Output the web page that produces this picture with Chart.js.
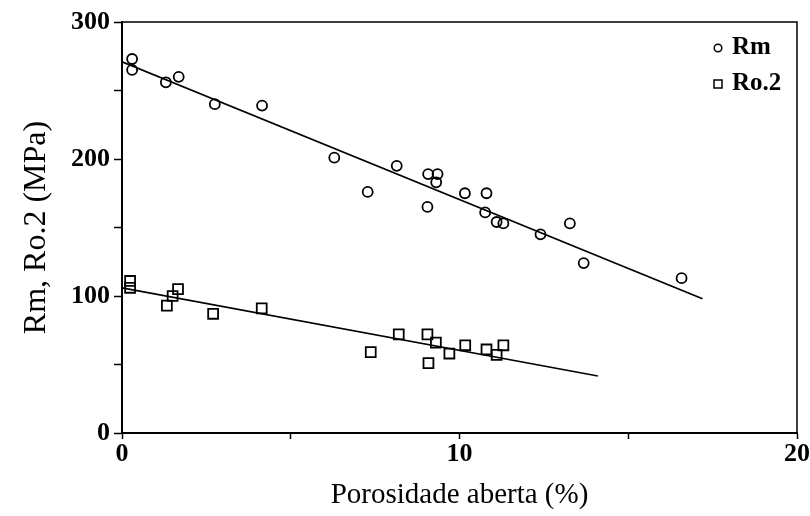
<!DOCTYPE html>
<html>
<head>
<meta charset="utf-8">
<script src="https://cdn.jsdelivr.net/npm/chart.js@4/dist/chart.umd.min.js"></script>
<style>
  html, body { margin: 0; padding: 0; background: #fff; }
  #wrap { width: 810px; height: 516px; }
</style>
</head>
<body>
<div id="wrap"><canvas id="c" width="810" height="516"></canvas></div>
<script>
// Tensile strength (Rm) and yield strength (Ro.2) versus open porosity
const rmX  = [0.3, 0.3, 1.3, 1.68, 2.75, 4.15, 6.29, 7.28, 8.14, 9.07, 9.35, 9.31, 9.05, 10.16, 10.8, 10.76, 11.1, 11.3, 12.4, 13.27, 13.68, 16.58];
const rmY  = [273, 265, 256, 260, 240, 239, 201, 176, 195, 189, 189, 183, 165, 175, 175, 161, 154, 153, 145, 153, 124, 113];
const ro2X = [0.24, 0.24, 1.33, 1.5, 1.66, 2.7, 4.14, 7.37, 8.2, 9.05, 9.3, 9.08, 9.7, 10.17, 10.8, 11.1, 11.3];
const ro2Y = [111, 106, 93, 100, 105, 87, 91, 59, 72, 72, 66, 51, 58, 64, 61, 57, 64];

// Linear fits drawn over each series
const rmFitX  = [0, 17.2];
const rmFitY  = [271, 98];
const ro2FitX = [0, 14.1];
const ro2FitY = [106, 41.6];

const xTickLabels = [0, 10, 20];
const yTickLabels = [0, 100, 200, 300];

const seriesNames = ['Rm', 'Ro.2'];
const xTitle = 'Porosidade aberta (%)';
const yTitle = 'Rm, Ro.2 (MPa)';

const pts = (xs, ys) => xs.map((x, i) => ({ x: x, y: ys[i] }));
const SERIF = "'Liberation Serif', 'Times New Roman', serif";

// Frame on top/right and the inside legend
const framePlugin = {
  id: 'frameAndLegend',
  afterDraw(chart) {
    const { ctx, chartArea: a } = chart;
    ctx.save();
    ctx.strokeStyle = '#000';
    ctx.lineWidth = 1.5;
    ctx.beginPath();
    ctx.moveTo(a.left, a.top);
    ctx.lineTo(a.right, a.top);
    ctx.lineTo(a.right, a.bottom);
    ctx.stroke();

    // legend entries
    const lx = a.right - 79, ty = a.top + 26, gap = 36;
    ctx.font = "bold 25px " + SERIF;
    ctx.textBaseline = 'middle';
    ctx.fillStyle = '#000';
    ctx.lineWidth = 1.5;
    // circle
    ctx.beginPath();
    ctx.arc(lx, ty, 3.8, 0, Math.PI * 2);
    ctx.stroke();
    ctx.fillText(seriesNames[0], lx + 14, ty);
    // square
    ctx.strokeRect(lx - 4, ty + gap - 4, 8, 8);
    ctx.fillText(seriesNames[1], lx + 14, ty + gap);
    ctx.restore();
  }
};

new Chart(document.getElementById('c'), {
  type: 'scatter',
  data: {
    datasets: [
      { label: seriesNames[0] + ' fit', data: pts(rmFitX, rmFitY), showLine: true,
        borderColor: '#000', borderWidth: 1.7, pointRadius: 0, fill: false },
      { label: seriesNames[1] + ' fit', data: pts(ro2FitX, ro2FitY), showLine: true,
        borderColor: '#000', borderWidth: 1.7, pointRadius: 0, fill: false },
      { label: seriesNames[0], data: pts(rmX, rmY), pointStyle: 'circle',
        pointRadius: 5, borderColor: '#000', backgroundColor: 'rgba(255,255,255,0)', borderWidth: 1.8 },
      { label: seriesNames[1], data: pts(ro2X, ro2Y), pointStyle: 'rect',
        pointRadius: 7, borderColor: '#000', backgroundColor: 'rgba(255,255,255,0)', borderWidth: 1.8 }
    ]
  },
  options: {
    responsive: false,
    animation: false,
    layout: { padding: { left: 0, right: 12, top: 22, bottom: 0 } },
    plugins: { legend: { display: false }, tooltip: { enabled: false } },
    scales: {
      x: {
        type: 'linear', min: 0, max: 20,
        afterFit(s) { s.height = 83; },
        border: { display: true, color: '#000', width: 2 },
        grid: { drawOnChartArea: false, drawTicks: true, tickLength: 6, tickColor: '#000', tickWidth: 1.5 },
        ticks: {
          stepSize: 5, color: '#000', padding: 0, maxRotation: 0,
          font: { family: SERIF, size: 26, weight: 'bold' },
          callback: v => xTickLabels.includes(v) ? String(v) : ''
        },
        title: {
          display: true, text: xTitle, color: '#000',
          font: { family: SERIF, size: 29 }, padding: { top: 0, bottom: 3 }
        }
      },
      y: {
        type: 'linear', min: 0, max: 300,
        afterFit(s) { s.width = 122; },
        border: { display: true, color: '#000', width: 2 },
        grid: { drawOnChartArea: false, drawTicks: true, tickLength: 8, tickColor: '#000', tickWidth: 1.5 },
        ticks: {
          stepSize: 50, color: '#000', padding: 4,
          font: { family: SERIF, size: 26, weight: 'bold' },
          callback: v => yTickLabels.includes(v) ? String(v) : ''
        },
        title: {
          display: true, text: yTitle, color: '#000',
          font: { family: SERIF, size: 32 }, padding: { top: 17, bottom: 0 }
        }
      }
    }
  },
  plugins: [framePlugin]
});
</script>
</body>
</html>
